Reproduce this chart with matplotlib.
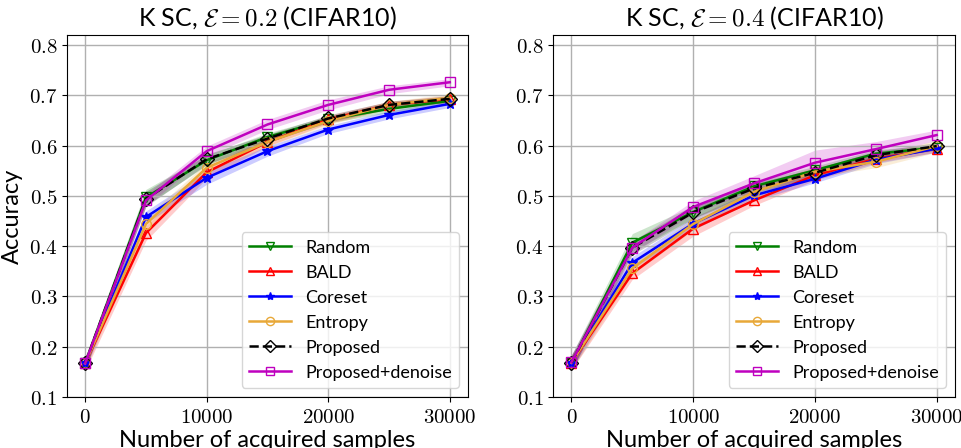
import numpy as np
import matplotlib.pyplot as plt

plt.rcParams['mathtext.fontset'] = 'cm'
plt.rcParams['font.family'] = ['Lato', 'DejaVu Sans']

x = [0, 5000, 10000, 15000, 20000, 25000, 30000]

# eps = 0.2
mean_02 = {
    'Random':           [0.167, 0.497, 0.571, 0.617, 0.652, 0.673, 0.689],
    'BALD':             [0.167, 0.426, 0.547, 0.607, 0.652, 0.681, 0.693],
    'Coreset':          [0.167, 0.458, 0.536, 0.589, 0.632, 0.661, 0.683],
    'Entropy':          [0.167, 0.444, 0.556, 0.607, 0.649, 0.681, 0.695],
    'Proposed':         [0.167, 0.494, 0.573, 0.614, 0.654, 0.681, 0.693],
    'Proposed+denoise': [0.167, 0.491, 0.589, 0.642, 0.681, 0.711, 0.726],
}
std_02 = {
    'Random':           [0.012, 0.016, 0.010, 0.008, 0.007, 0.007, 0.006],
    'BALD':             [0.015, 0.015, 0.012, 0.008, 0.008, 0.007, 0.007],
    'Coreset':          [0.012, 0.012, 0.013, 0.010, 0.008, 0.008, 0.007],
    'Entropy':          [0.012, 0.014, 0.010, 0.008, 0.008, 0.007, 0.008],
    'Proposed':         [0.012, 0.015, 0.010, 0.008, 0.007, 0.007, 0.006],
    'Proposed+denoise': [0.012, 0.012, 0.010, 0.010, 0.010, 0.008, 0.007],
}

# eps = 0.4
mean_04 = {
    'Random':           [0.168, 0.407, 0.468, 0.519, 0.551, 0.584, 0.596],
    'BALD':             [0.168, 0.346, 0.435, 0.491, 0.541, 0.574, 0.594],
    'Coreset':          [0.168, 0.367, 0.445, 0.501, 0.534, 0.572, 0.594],
    'Entropy':          [0.168, 0.356, 0.444, 0.508, 0.548, 0.568, 0.599],
    'Proposed':         [0.168, 0.397, 0.467, 0.515, 0.546, 0.581, 0.599],
    'Proposed+denoise': [0.169, 0.397, 0.478, 0.525, 0.566, 0.593, 0.621],
}
std_04 = {
    'Random':           [0.015, 0.018, 0.012, 0.010, 0.008, 0.008, 0.006],
    'BALD':             [0.015, 0.012, 0.015, 0.010, 0.010, 0.008, 0.007],
    'Coreset':          [0.015, 0.012, 0.012, 0.010, 0.008, 0.008, 0.007],
    'Entropy':          [0.015, 0.012, 0.012, 0.010, 0.010, 0.012, 0.012],
    'Proposed':         [0.015, 0.014, 0.012, 0.010, 0.008, 0.008, 0.007],
    'Proposed+denoise': [0.015, 0.012, 0.012, 0.015, 0.025, 0.015, 0.010],
}

styles = {
    'Random':           dict(color='green', marker='v', ls='-', mfc='none'),
    'BALD':             dict(color='red', marker='^', ls='-', mfc='none'),
    'Coreset':          dict(color='blue', marker='*', ls='-'),
    'Entropy':          dict(color='#e8a838', marker='o', ls='-', mfc='none'),
    'Proposed':         dict(color='black', marker='D', ls='--', mfc='none'),
    'Proposed+denoise': dict(color='m', marker='s', ls='-', mfc='none'),
}

fig = plt.figure(figsize=(9.62, 4.48), dpi=100)
ax1 = fig.add_axes([0.0696, 0.1138, 0.4169, 0.8081])
ax2 = fig.add_axes([0.5750, 0.1138, 0.4177, 0.8081])

for ax, means, stds, eps in [(ax1, mean_02, std_02, '0.2'), (ax2, mean_04, std_04, '0.4')]:
    for name in means:
        m = np.array(means[name])
        s = np.array(stds[name])
        st = styles[name]
        ax.fill_between(x, m - s, m + s, color=st['color'], alpha=0.2, lw=0)
        ax.plot(x, m, label=name, lw=1.8, markersize=7, **st)
    ax.set_ylim(0.1, 0.82)
    ax.set_xlim(-1500, 31500)
    ax.set_xticks([0, 10000, 20000, 30000])
    ax.set_xticklabels(['$0$', '$10000$', '$20000$', '$30000$'])
    ax.set_yticks([0.1, 0.2, 0.3, 0.4, 0.5, 0.6, 0.7, 0.8])
    ax.set_yticklabels([f'${v:.1f}$' for v in ax.get_yticks()])
    ax.tick_params(labelsize=15)
    ax.grid(True, color='#b0b0b0', lw=1)
    ax.set_xlabel('Number of acquired samples', fontsize=17, labelpad=2)
    ax.set_title(r'K SC, $\mathcal{E}=' + eps + r'$ (CIFAR10)', fontsize=18, pad=6)
    ax.legend(loc='lower right', fontsize=13, handlelength=2.3, markerscale=0.85)

ax1.set_ylabel('Accuracy', fontsize=17)

plt.savefig('out.png', dpi=100)
